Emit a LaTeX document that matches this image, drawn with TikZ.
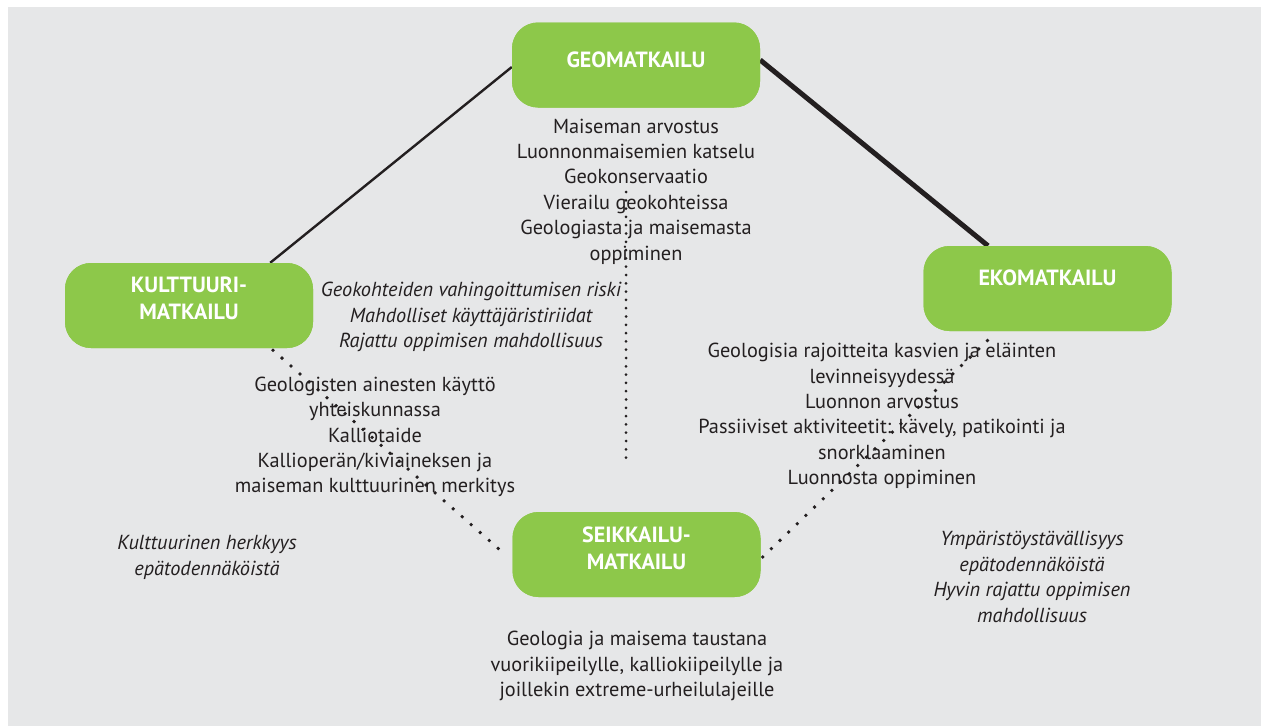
\documentclass[tikz,border=0pt]{standalone}
\usepackage{fontspec}
\setmainfont{PT Sans}
\definecolor{panelgray}{HTML}{E6E7E8}
\definecolor{tourgreen}{HTML}{8DC84A}
\definecolor{inkblack}{HTML}{231F20}
\begin{document}
\begin{tikzpicture}[x=1pt,y=-1pt,
  tourbox/.style={fill=tourgreen, rounded corners=26pt, minimum width=248pt, minimum height=85pt, inner sep=0pt},
  boxlabel/.style={text=white, align=center, inner sep=0pt, font=\fontsize{22}{27}\selectfont\bfseries},
  bodytext/.style={text=inkblack, align=center, inner sep=0pt, font=\fontsize{20.3}{25.4}\selectfont},
  notetext/.style={bodytext, font=\fontsize{20.3}{25.4}\selectfont\itshape},
  solidlink/.style={draw=inkblack, line width=2.4pt},
  boldlink/.style={draw=inkblack, line width=5pt},
  dotlink/.style={draw=inkblack, line width=3.8pt, line cap=round, dash pattern=on 0pt off 12pt},
  dotvert/.style={draw=inkblack, line width=3pt, line cap=round, dash pattern=on 0pt off 8.3pt}]
\useasboundingbox (0,0) rectangle (1261,726);
\fill[white] (0,0) rectangle (1261,726);
\fill[panelgray] (8,7) rectangle (1261,726);

% tourism type boxes (placed first so connectors can reference them)
\path (636,65) node[tourbox] (geo) {};
\path (189,305.5) node[tourbox] (kult) {};
\path (1047.5,288.5) node[tourbox] (eko) {};
\path (636.5,554.5) node[tourbox] (seik) {};

% connectors
\coordinate (vtop) at (626,192);
\coordinate (vbot) at (626,464);
\draw[solidlink] ([xshift=-43pt]kult.north east) -- ([yshift=-2pt]geo.west);
\draw[boldlink] ([yshift=5pt]geo.east) -- ([xshift=-59.5pt]eko.north);
\draw[dotlink] ([xshift=84pt,yshift=-2pt]kult.south) -- ([xshift=-14pt,yshift=6pt]seik.west);
\draw[dotlink] ([xshift=2pt,yshift=-2.5pt]seik.east) -- ([xshift=-54.5pt,yshift=-4pt]eko.south);
\draw[dotvert] (vtop) -- (vbot);

% redraw boxes above the connector ends
\path (636,65) node[tourbox] {};
\path (189,305.5) node[tourbox] {};
\path (1047.5,288.5) node[tourbox] {};
\path (636.5,554.5) node[tourbox] {};

% box labels
\node[boxlabel] (geol) at (636,60) {GEOMATKAILU};
\node[boxlabel] (kultl) at (189,298.5) {KULTTUURI-\\MATKAILU};
\node[boxlabel] (ekol) at (1047.5,278) {EKOMATKAILU};
\node[boxlabel] (seikl) at (636.5,548.5) {SEIKKAILU-\\MATKAILU};

% descriptions
\node[bodytext] (geotxt) at (636,191.5) {Maiseman arvostus\\Luonnonmaisemien katselu\\Geokonservaatio\\Vierailu geokohteissa\\Geologiasta ja maisemasta\\oppiminen};
\node[notetext] (geonote) at (471,317) {Geokohteiden vahingoittumisen riski\\Mahdolliset käyttäjäristiriidat\\Rajattu oppimisen mahdollisuus};
\node[bodytext] (kulttxt) at (375,437) {Geologisten ainesten käyttö\\yhteiskunnassa\\Kalliotaide\\Kallioperän/kiviaineksen ja\\maiseman kulttuurinen merkitys};
\node[notetext] (kultnote) at (207,557.5) {Kulttuurinen herkkyys\\epätodennäköistä};
\node[bodytext] (ekotxt) at (882,416) {Geologisia rajoitteita kasvien ja eläinten\\levinneisyydessä\\Luonnon arvostus\\Passiiviset aktiviteetit: kävely, patikointi ja\\snorklaaminen\\Luonnosta oppiminen};
\node[notetext] (ekonote) at (1032,577) {Ympäristöystävällisyys\\epätodennäköistä\\Hyvin rajattu oppimisen\\mahdollisuus};
\node[bodytext] (seiktxt) at (637,666) {Geologia ja maisema taustana\\vuorikiipeilylle, kalliokiipeilylle ja\\joillekin extreme-urheilulajeille};
\end{tikzpicture}
\end{document}
